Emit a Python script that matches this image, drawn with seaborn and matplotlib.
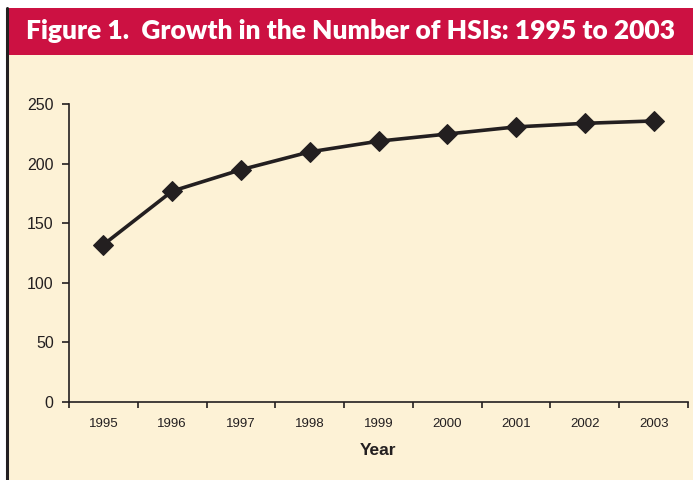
import pandas as pd
import matplotlib.pyplot as plt
import seaborn as sns
from matplotlib.patches import Rectangle
from matplotlib.lines import Line2D

# --------------------------
# Data
# --------------------------

years = ["1995", "1996", "1997", "1998", "1999", "2000", "2001", "2002", "2003"]
hsi_count = [132, 177, 195, 210, 219, 225, 231, 234, 236]
y_ticks = [0, 50, 100, 150, 200, 250]

df = pd.DataFrame({"pos": range(len(years)), "Year": years, "HSIs": hsi_count})

# --------------------------
# Figure
# --------------------------

sns.set_theme(style="ticks")
plt.rcParams["font.family"] = ["Liberation Sans", "DejaVu Sans"]

cream = "#FDF2D6"
crimson = "#CC1142"
ink = "#231F20"

fig = plt.figure(figsize=(6.93, 4.8), dpi=100, facecolor="white")

# page background, banner and left border
fig.patches.append(Rectangle((8 / 693, 0), 1, 1 - 8 / 480, transform=fig.transFigure,
                             facecolor=cream, edgecolor="none", zorder=-3))
fig.patches.append(Rectangle((8 / 693, 1 - 55 / 480), 1, 47 / 480, transform=fig.transFigure,
                             facecolor=crimson, edgecolor="none", zorder=-2))
fig.lines.append(Line2D([7 / 693, 7 / 693], [0, 1 - 8 / 480], transform=fig.transFigure,
                        color=ink, lw=2.2))

fig.text(350 / 693, 1 - 31 / 480, "Figure 1.  Growth in the Number of HSIs: 1995 to 2003",
         ha="center", va="center", color="white", fontsize=19, fontweight="heavy",
         family=["Lato", "DejaVu Sans"])

ax = fig.add_axes([69 / 693, 1 - 401.7 / 480, (688 - 69) / 693, (401.7 - 104.3) / 480])
ax.set_facecolor(cream)

sns.lineplot(data=df, x="pos", y="HSIs", ax=ax, color=ink, lw=2.6,
             marker="D", markersize=10, markeredgecolor=ink, markerfacecolor=ink)

ax.set_xlim(-0.5, len(years) - 0.5)
ax.set_ylim(0, 250)
ax.set_yticks(y_ticks)
ax.set_yticklabels([str(t) for t in y_ticks], fontsize=11.5, color=ink)

ax.set_xticks(range(len(years)))
ax.set_xticklabels(years, fontsize=9.5, color=ink)
ax.set_xticks([i - 0.5 for i in range(len(years) + 1)], minor=True)
ax.tick_params(axis="x", which="major", length=0, pad=12)
ax.tick_params(axis="x", which="minor", length=4, width=1.2, color=ink, direction="out")
ax.tick_params(axis="y", length=5, width=1.2, color=ink, direction="out", pad=6)

ax.set_xlabel("Year", fontsize=12.5, fontweight="bold", color=ink, labelpad=9)
ax.set_ylabel("")

sns.despine(ax=ax)
for side in ["left", "bottom"]:
    ax.spines[side].set_color(ink)
    ax.spines[side].set_linewidth(1.2)

fig.savefig("out.png", dpi=100, facecolor=fig.get_facecolor())
